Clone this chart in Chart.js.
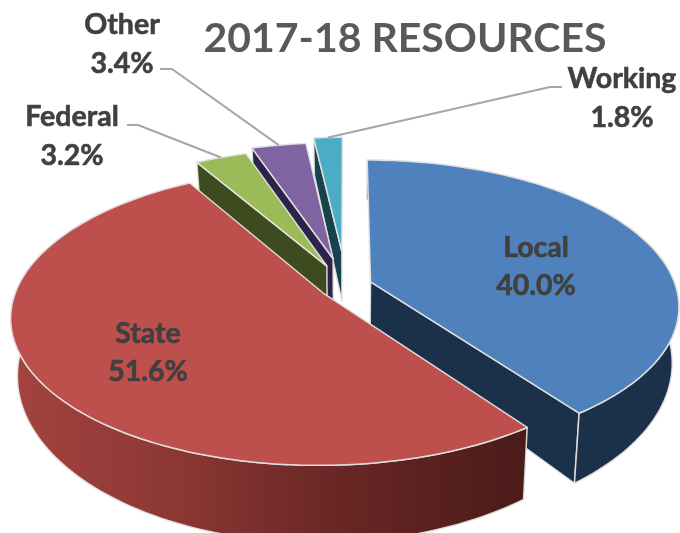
<!DOCTYPE html>
<html><head><meta charset="utf-8">
<style>html,body{margin:0;padding:0;background:#fff}#w{width:680px;height:533px;position:relative}</style>
<script src="https://cdn.jsdelivr.net/npm/chart.js@4/dist/chart.umd.min.js"></script>
</head><body><div id="w"><canvas id="c" width="680" height="533"></canvas></div>
<script>
const categories = ["Local", "State", "Federal", "Other", "Working"];
const shares = [40.0, 51.6, 3.2, 3.4, 1.8];
const shareLabels = ["40.0%", "51.6%", "3.2%", "3.4%", "1.8%"];
const topColors = ["#4f81bd", "#bd4f4c", "#9bbb59", "#8064a2", "#4bacc6"];
const wallColors = ["#1b3049", "#6a2725", "#3d4b1f", "#2d2248", "#17434f"];
const explode = [8.5, 9, 15.5, 20, 25];

const P = {cx:346, cy:285.7, A:305, B:142.5, p:0.16, D:53.6, shrink:0.98};
const LABELS = [
  {x:536,y1:247,y2:285},
  {x:148,y1:333,y2:371},
  {x:72,y1:116,y2:155,lead:[[127,125],[138,125]]},
  {x:122,y1:24,y2:63,lead:[[160,69],[172,69]]},
  {x:622,y1:78,y2:117,lead:[[562,87],[550,87]]}
];
// which walls of each slice face the viewer
const WALLS = [{e:true,arc:true},{arc:true},{s:true},{s:true},{s:true}];

function proj(u,v,bottom){
  const w=1+P.p*v;
  let x=P.cx+P.A*u/w, y=P.cy-P.B*v/w;
  if(bottom){x=P.cx+(x-P.cx)*P.shrink; y+=P.D/(w*w);}
  return [x,y];
}
function poly(ctx,pts,fill,stroke,lw){
  ctx.beginPath();
  pts.forEach((q,i)=>i?ctx.lineTo(q[0],q[1]):ctx.moveTo(q[0],q[1]));
  ctx.closePath();
  ctx.fillStyle=fill;ctx.fill();
  ctx.strokeStyle=stroke;ctx.lineWidth=lw;ctx.lineJoin='round';ctx.stroke();
}
const piePlugin={
  id:'pie3d',
  beforeDatasetDraw(chart){
    const ctx=chart.ctx, arcs=chart.getDatasetMeta(0).data;
    const order=[4,3,2,0,1];
    const geo=arcs.map(a=>{
      const s=a.startAngle+Math.PI/2, e=a.endAngle+Math.PI/2, m=(s+e)/2, off=a.options.offset/100;
      return {s,e,m,ou:off*Math.sin(m),ov:off*Math.cos(m)};
    });
    const pt=(g,t,b)=>proj(g.ou+Math.sin(t),g.ov+Math.cos(t),b);
    ctx.save();
    order.forEach(i=>{
      const g=geo[i], edge='rgba(226,226,226,0.95)', n=Math.max(4,Math.round((g.e-g.s)*40));
      const wall=wallColors[i], show=WALLS[i];
      const apexT=proj(g.ou,g.ov,false), apexB=proj(g.ou,g.ov,true);
      if(show.s) poly(ctx,[apexT,pt(g,g.s,false),pt(g,g.s,true),apexB],wall,edge,1.5);
      if(show.e) poly(ctx,[apexT,pt(g,g.e,false),pt(g,g.e,true),apexB],wall,edge,1.5);
      const top=[],bot=[];
      for(let k=0;k<=n;k++){const t=g.s+(g.e-g.s)*k/n;top.push(pt(g,t,false));bot.push(pt(g,t,true));}
      if(show.arc){
        let wf=wall;
        if(i===1){
          const gr=ctx.createLinearGradient(13,0,530,0);
          gr.addColorStop(0,'#a4433f');gr.addColorStop(0.32,'#8b3734');
          gr.addColorStop(0.64,'#672624');gr.addColorStop(1,'#4a1b19');
          wf=gr;
        }
        poly(ctx,top.concat(bot.slice().reverse()),wf,edge,1.5);
      }
      poly(ctx,[apexT].concat(top),topColors[i],edge,1.5);
    });
    ctx.strokeStyle='#a6a6a6';ctx.lineWidth=2;ctx.lineJoin='round';
    LABELS.forEach((l,i)=>{
      if(!l.lead)return;
      const g=geo[i], end=pt(g,g.m,false);
      ctx.beginPath();ctx.moveTo(l.lead[0][0],l.lead[0][1]);ctx.lineTo(l.lead[1][0],l.lead[1][1]);
      ctx.lineTo(end[0],end[1]);ctx.stroke();
    });
    ctx.font='bold 28.5px Lato';ctx.fillStyle='#404040';ctx.strokeStyle='#404040';ctx.lineWidth=0.6;
    ctx.textAlign='center';ctx.textBaseline='middle';
    LABELS.forEach((l,i)=>{
      [[categories[i],l.y1],[shareLabels[i],l.y2]].forEach(([t,y])=>{
        ctx.fillText(t,l.x,y+1);ctx.strokeText(t,l.x,y+1);
      });
    });
    ctx.restore();
    return false;
  }
};
new Chart(document.getElementById('c'),{
  type:'pie',
  data:{labels:categories,datasets:[{data:shares,backgroundColor:topColors,offset:explode,borderWidth:0}]},
  options:{
    responsive:false,animation:false,
    layout:{padding:{left:130,right:0,top:0,bottom:0}},
    plugins:{
      legend:{display:false},tooltip:{enabled:false},
      title:{display:true,text:"2017-18 RESOURCES",color:'#595959',
        font:{family:'Lato',size:41,weight:'bold',lineHeight:1.2},padding:{top:14,bottom:0}}
    }
  },
  plugins:[piePlugin]
});
</script></body></html>
